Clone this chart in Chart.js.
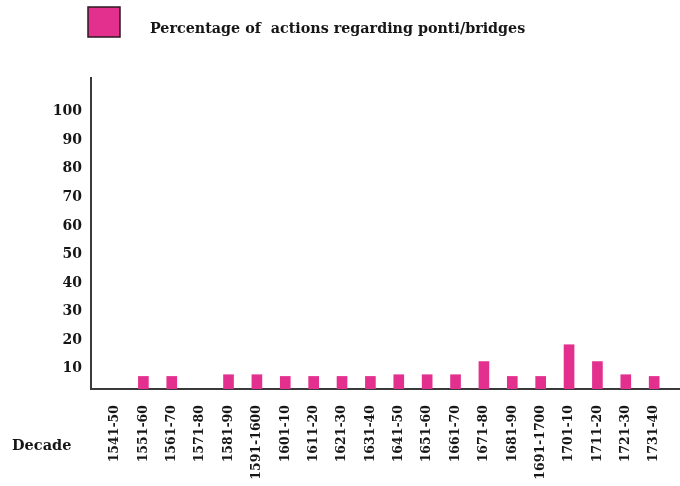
<!doctype html>
<html>
<head>
  <meta charset="utf-8">
  <title>Percentage of actions regarding ponti/bridges</title>
  <script src="https://cdn.jsdelivr.net/npm/chart.js@4.4.1/dist/chart.umd.min.js"></script>
  <style>
    body{margin:0;background:#fff;}
    #chart{display:block;}
  </style>
</head>
<body>
<canvas id="chart" width="680" height="486"></canvas>

<script>
// data
const decades = ['1541-50','1551-60','1561-70','1571-80','1581-90','1591-1600',
  '1601-10','1611-20','1621-30','1631-40','1641-50','1651-60','1661-70','1671-80',
  '1681-90','1691-1700','1701-10','1711-20','1721-30','1731-40'];
const shares = [0, 7.3, 7.3, 0, 7.9, 7.9, 7.3, 7.3, 7.3, 7.3,
  7.9, 7.9, 7.9, 12.5, 7.3, 7.3, 18.4, 12.5, 7.9, 7.3];
const yTicks = [10, 20, 30, 40, 50, 60, 70, 80, 90, 100];
const seriesLabel = 'Percentage of  actions regarding ponti/bridges';
const xTitle = 'Decade';

const pink = '#e3308f';
const ink = '#161616';
const serif = '"DejaVu Serif", "Liberation Serif", serif';

// legend box + "Decade" drawn by hand, the picture puts them where chart.js won't
const decorations = {
  id: 'decorations',
  afterDraw(chart) {
    const ctx = chart.ctx;
    const ds = chart.data.datasets[0];
    ctx.save();
    ctx.fillStyle = ds.backgroundColor;
    ctx.fillRect(88, 7, 32, 30);
    ctx.strokeStyle = '#2a1a22';
    ctx.lineWidth = 1.5;
    ctx.strokeRect(88, 7, 32, 30);

    ctx.fillStyle = ink;
    ctx.font = 'bold 14.3px ' + serif;
    ctx.textBaseline = 'alphabetic';
    ctx.fillText(ds.label, 150, 33);

    ctx.font = 'bold 14.5px ' + serif;
    ctx.textBaseline = 'middle';
    ctx.fillText(xTitle, 12, 446);
    ctx.restore();
  }
};

new Chart(document.getElementById('chart'), {
  type: 'bar',
  data: {
    datasets: [{
      label: seriesLabel,
      data: shares.map((v, i) => ({x: i, y: v})),
      backgroundColor: pink,
      barThickness: 10,
      clip: 0
    }]
  },
  options: {
    responsive: false,
    animation: false,
    layout: {padding: {top: 78, left: 0, right: 0, bottom: 0}},
    plugins: {legend: {display: false}, tooltip: {enabled: false}},
    scales: {
      x: {
        type: 'linear',
        offset: false,
        min: -0.846,
        max: 19.91,
        grid: {display: false, drawTicks: false},
        border: {display: true, color: '#3a3a3a', width: 2},
        afterBuildTicks: s => { s.ticks = decades.map((_, i) => ({value: i})); },
        afterFit: s => { s.height = 97; s.paddingLeft = 0; s.paddingRight = 0; },
        ticks: {
          autoSkip: false,
          minRotation: 90,
          maxRotation: 90,
          padding: 16,
          color: ink,
          font: {family: serif, size: 12.5, weight: 'bold'},
          callback: (v, i) => decades[i]
        }
      },
      y: {
        min: 2.9,
        max: 111.8,
        grid: {display: false, drawTicks: false},
        border: {display: true, color: '#3a3a3a', width: 2},
        afterBuildTicks: s => { s.ticks = yTicks.map(v => ({value: v})); },
        afterFit: s => { s.width = 91; s.paddingTop = 0; s.paddingBottom = 0; },
        ticks: {
          padding: 9,
          color: ink,
          font: {family: serif, size: 14, weight: 'bold'}
        }
      }
    }
  },
  plugins: [decorations]
});
</script>
</body>
</html>
